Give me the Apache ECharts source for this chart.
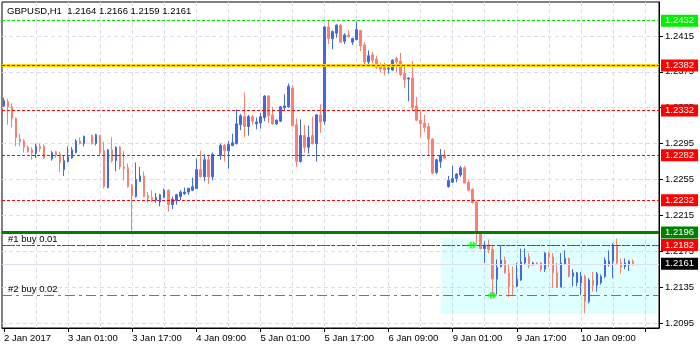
<!DOCTYPE html>
<html><head><meta charset="utf-8">
<script src="https://cdn.jsdelivr.net/npm/echarts@6/dist/echarts.min.js"></script>
<style>html,body{margin:0;padding:0;background:#fff}#c{width:700px;height:350px}</style>
</head><body><div id="c"></div>
<script>
const titleText = 'GBPUSD,H1  1.2164 1.2166 1.2159 1.2161';
const xLabels = ['2 Jan 2017','3 Jan 01:00','3 Jan 17:00','4 Jan 09:00','5 Jan 01:00','5 Jan 17:00','6 Jan 09:00','9 Jan 01:00','9 Jan 17:00','10 Jan 09:00'];
const yTicks = [1.2095,1.2135,1.2175,1.2215,1.2255,1.2295,1.2335,1.2375,1.2415];
const slotCount = 164;

const opens = [1.2337,1.2342,1.2336,1.2323,1.2300,1.2298,1.2291,1.2288,1.2284,1.2292,1.2292,null,1.2278,1.2286,1.2283,1.2266,1.2275,1.2279,1.2285,1.2298,1.2295,null,1.2304,1.2295,1.2304,1.2287,1.2246,1.2288,1.2276,1.2291,1.2269,1.2268,1.2248,1.2236,1.2253,1.2259,1.2237,1.2235,1.2232,1.2230,1.2235,1.2243,1.2227,1.2232,1.2236,1.2239,1.2241,1.2243,1.2245,1.2266,1.2258,1.2277,1.2258,null,1.2282,1.2293,1.2287,1.2293,1.2295,1.2316,1.2325,1.2314,1.2325,1.2317,1.2318,1.2324,1.2348,1.2327,1.2317,1.2320,1.2335,1.2336,1.2357,1.2316,1.2275,1.2304,1.2291,1.2304,1.2295,1.2327,1.2320,1.2425,1.2412,1.2418,1.2427,1.2409,1.2416,1.2408,1.2411,1.2421,1.2405,1.2386,1.2394,1.2389,1.2382,1.2380,1.2378,1.2377,1.2390,1.2387,1.2373,1.2367,1.2368,1.2337,1.2321,1.2318,1.2314,1.2300,1.2263,1.2275,1.2282,1.2247,1.2252,1.2256,1.2260,1.2268,1.2252,1.2244,1.2230,1.2195,1.2178,1.2182,1.2177,1.2144,1.2158,1.2165,1.2151,1.2137,1.2136,1.2143,1.2162,1.2169,1.2160,1.2162,1.2162,1.2155,1.2173,1.2169,1.2151,1.2135,1.2161,1.2167,1.2147,1.2140,1.2140,1.2147,1.2119,1.2143,1.2137,1.2140,1.2147,1.2160,1.2164,1.2182,1.2162,1.2158,1.2160,1.2164];
const highs = [1.2346,1.2345,1.2340,1.2324,1.2306,1.2300,1.2293,1.2291,1.2295,1.2295,1.2294,null,1.2287,1.2287,1.2286,1.2281,1.2292,1.2291,1.2300,1.2302,1.2304,null,1.2305,1.2306,1.2305,1.2297,1.2289,1.2302,1.2292,1.2292,1.2287,1.2273,1.2250,1.2274,1.2269,1.2264,1.2241,1.2243,1.2240,1.2239,1.2245,1.2244,1.2236,1.2239,1.2243,1.2246,1.2246,1.2257,1.2278,1.2287,1.2283,1.2282,1.2285,null,1.2295,1.2295,1.2298,1.2306,1.2333,1.2328,1.2352,1.2327,1.2327,1.2324,1.2329,1.2349,1.2349,1.2336,1.2322,1.2337,1.2350,1.2362,1.2360,1.2323,1.2322,1.2316,1.2315,1.2325,1.2328,1.2339,1.2426,1.2433,1.2421,1.2428,1.2428,1.2418,1.2421,1.2413,1.2431,1.2422,1.2408,1.2399,1.2397,1.2393,1.2385,1.2385,1.2382,1.2389,1.2392,1.2396,1.2383,1.2369,1.2387,1.2347,1.2332,1.2327,1.2318,1.2301,1.2278,1.2289,1.2288,1.2259,1.2270,1.2262,1.2270,1.2270,1.2255,1.2245,1.2231,1.2196,1.2186,1.2188,1.2182,1.2166,1.2182,1.2169,1.2160,1.2158,1.2162,1.2178,1.2178,1.2173,1.2163,1.2163,1.2163,1.2174,1.2174,1.2173,1.2162,1.2173,1.2176,1.2168,1.2155,1.2152,1.2152,1.2149,1.2145,1.2152,1.2152,1.2149,1.2168,1.2176,1.2184,1.2189,1.2167,1.2167,1.2165,1.2166];
const lows = [1.2336,1.2316,1.2313,1.2292,1.2292,1.2285,1.2285,1.2277,1.2279,1.2286,1.2278,null,1.2276,1.2279,1.2263,1.2259,1.2274,1.2278,1.2284,1.2294,1.2292,null,1.2294,1.2293,1.2282,1.2245,1.2245,1.2274,1.2264,1.2266,1.2254,1.2246,1.2198,1.2235,1.2252,1.2235,1.2229,1.2230,1.2229,1.2225,1.2234,1.2219,1.2222,1.2227,1.2232,1.2238,1.2238,1.2242,1.2244,1.2257,1.2253,1.2250,1.2254,null,1.2277,1.2275,1.2267,1.2292,1.2294,1.2310,1.2302,1.2304,1.2316,1.2311,1.2312,1.2320,1.2318,1.2316,1.2316,1.2319,1.2331,1.2335,1.2314,1.2269,1.2274,1.2285,1.2284,1.2294,1.2275,1.2307,1.2316,1.2406,1.2400,1.2413,1.2407,1.2406,1.2413,1.2405,1.2410,1.2398,1.2381,1.2382,1.2385,1.2378,1.2374,1.2371,1.2373,1.2376,1.2375,1.2370,1.2357,1.2342,1.2332,1.2320,1.2302,1.2308,1.2282,1.2261,1.2261,1.2268,1.2278,1.2246,1.2251,1.2252,1.2258,1.2251,1.2242,1.2228,1.2183,1.2177,1.2162,1.2173,1.2127,1.2127,1.2157,1.2150,1.2124,1.2125,1.2135,1.2142,1.2161,1.2156,1.2159,1.2160,1.2152,1.2152,1.2157,1.2134,1.2134,1.2135,1.2160,1.2146,1.2136,1.2136,1.2126,1.2106,1.2117,1.2130,1.2130,1.2138,1.2145,1.2158,1.2145,1.2160,1.2150,1.2155,1.2153,1.2159];
const closes = [1.2343,1.2336,1.2323,1.2302,1.2297,1.2291,1.2286,1.2285,1.2292,1.2289,1.2279,null,1.2285,1.2282,1.2274,1.2276,1.2280,1.2288,1.2298,1.2295,1.2303,null,1.2295,1.2305,1.2285,1.2247,1.2288,1.2276,1.2291,1.2269,1.2267,1.2247,1.2237,1.2255,1.2259,1.2236,1.2234,1.2233,1.2235,1.2238,1.2243,1.2227,1.2233,1.2238,1.2241,1.2241,1.2245,1.2247,1.2266,1.2258,1.2277,1.2258,1.2283,null,1.2293,1.2287,1.2294,1.2296,1.2317,1.2326,1.2314,1.2325,1.2320,1.2319,1.2325,1.2348,1.2326,1.2317,1.2321,1.2336,1.2337,1.2359,1.2315,1.2275,1.2304,1.2291,1.2302,1.2295,1.2327,1.2319,1.2425,1.2412,1.2420,1.2427,1.2408,1.2416,1.2414,1.2412,1.2422,1.2404,1.2386,1.2393,1.2388,1.2380,1.2378,1.2377,1.2379,1.2388,1.2386,1.2372,1.2366,1.2368,1.2335,1.2321,1.2317,1.2313,1.2300,1.2262,1.2277,1.2282,1.2279,1.2254,1.2256,1.2261,1.2268,1.2251,1.2243,1.2229,1.2195,1.2178,1.2182,1.2177,1.2144,1.2157,1.2165,1.2151,1.2136,1.2136,1.2144,1.2163,1.2168,1.2159,1.2162,1.2161,1.2155,1.2173,1.2169,1.2151,1.2135,1.2162,1.2167,1.2147,1.2151,1.2151,1.2147,1.2119,1.2143,1.2137,1.2150,1.2147,1.2165,1.2164,1.2182,1.2162,1.2157,1.2162,1.2164,1.2161];

const levelPrices = [1.2432, 1.2382, 1.2332, 1.2282, 1.2232, 1.2196, 1.2182, 1.2161];
const orderNames = ['#1 buy 0.01', '#2 buy 0.02'];
const orderPrices = [1.2182, 1.2126];
const orderBars = [117, 122];
const zoneBars = [109, 163];
const zonePrices = [1.2190, 1.2105];

// styles (kept apart from the data)
const levelStyles = [
  {line:{color:'#00e600',type:[3,2],width:1}, bg:'#00f000'},
  {line:{color:'#ff0000',type:[3,2],width:1}, bg:'#ff0000', under:{color:'#ffd200',width:3,type:'solid'}},
  {line:{color:'#ff0000',type:[3,2],width:1}, bg:'#ff0000'},
  {line:{color:'#ff0000',type:[3,2],width:1}, bg:'#ff0000'},
  {line:{color:'#ff0000',type:[3,2],width:1}, bg:'#ff0000'},
  {line:{color:'#008000',type:'solid',width:3}, bg:'#008000'},
  {line:{color:'#ff0000',type:[3,2],width:1}, bg:'#ff0000'},
  {line:{color:'#e4dcec',type:'solid',width:1}, bg:'#000000'}
];
const FONT = 'Liberation Sans';
const FS = 9.5;

const categories = Array.from({length: slotCount}, (_, i) => String(i));
const candleData = opens.map((o, i) => o == null ? '-' : [o, closes[i], lows[i], highs[i]]);

const underLines = [];
levelPrices.forEach((p, i) => {
  const s = levelStyles[i];
  if (s.under) underLines.push({yAxis: p, lineStyle: s.under, label: {show: false}});
});
const levelLines = levelPrices.map((p, i) => ({
  yAxis: p,
  lineStyle: levelStyles[i].line,
  label: {
    show: true, position: 'end', distance: 2,
    formatter: p.toFixed(4),
    color: '#fff', backgroundColor: levelStyles[i].bg,
    padding: [1, 4, 0, 4], fontFamily: FONT, fontSize: FS, lineHeight: 11
  }
}));
const orderLines = orderPrices.map((p, i) => ({
  yAxis: p,
  lineStyle: {color: '#4682b4', type: [10, 4, 3, 4], width: 1},
  label: {show: true, position: 'insideStartTop', distance: [6, 1], formatter: orderNames[i],
          color: '#000', fontFamily: FONT, fontSize: FS}
}));

const arrowPath = 'path://M0,3.5 L5,3.5 L5,0 L10,5 L5,10 L5,6.5 L0,6.5 Z M2,1 L4,1 L4,9 L2,9 Z';

const option = {
  animation: false,
  backgroundColor: '#ffffff',
  title: {text: titleText, left: 7, top: 6, padding: 0,
          textStyle: {fontFamily: FONT, fontSize: FS, fontWeight: 'normal', color: '#000'}},
  grid: {left: 2, right: 41, top: 2, bottom: 22, show: true, borderColor: '#000', borderWidth: 1},
  xAxis: {
    type: 'category', data: categories, boundaryGap: true,
    axisLine: {show: true, lineStyle: {color: '#000'}},
    axisTick: {show: true, alignWithLabel: true, length: 4, lineStyle: {color: '#000'},
               interval: (i) => i % 16 === 0},
    axisLabel: {show: true, interval: (i) => i % 16 === 0, align: 'left', margin: 5,
                formatter: (v, i) => xLabels[i / 16] || '',
                color: '#000', fontFamily: FONT, fontSize: FS},
    splitLine: {show: true, alignWithLabel: true, interval: (i) => i > 0 && i % 8 === 0,
                lineStyle: {color: '#dcdcea', type: [4, 3], width: 1}}
  },
  yAxis: {
    type: 'value', position: 'right', min: 1.20895, max: 1.24528, scale: true,
    axisLine: {show: true, lineStyle: {color: '#000'}},
    axisTick: {show: true, length: 4, lineStyle: {color: '#000'}, customValues: yTicks},
    axisLabel: {show: true, customValues: yTicks, margin: 6, formatter: (v) => v.toFixed(4),
                color: '#000', fontFamily: FONT, fontSize: FS},
    splitLine: {show: true, lineStyle: {color: '#dcdcea', type: [4, 3], width: 1}}
  },
  series: [
    {
      type: 'line', data: [], silent: true, z: 1,
      markArea: {silent: true, precision: 5, itemStyle: {color: 'rgba(0,255,255,0.12)'},
        data: [[{coord: [zoneBars[0], zonePrices[0]]}, {coord: [zoneBars[1], zonePrices[1]]}]]},
      markLine: {silent: true, symbol: 'none', precision: 5, data: underLines}
    },
    {
      type: 'candlestick', data: candleData, barWidth: 2, z: 3,
      itemStyle: {color: '#4169e1', color0: '#fa8072', borderColor: '#4169e1', borderColor0: '#fa8072', borderWidth: 1}
    },
    {
      type: 'line', data: [], silent: true, z: 4,
      markLine: {silent: true, symbol: 'none', precision: 5, data: orderLines.concat(levelLines)}
    },
    {
      type: 'scatter', z: 5, silent: true,
      data: orderBars.map((b, i) => [b, orderPrices[i]]),
      symbol: arrowPath, symbolSize: [9, 8], itemStyle: {color: '#00ff00'}
    }
  ]
};
const chart = echarts.init(document.getElementById('c'), null, {renderer: 'canvas'});
chart.setOption(option);
</script></body></html>
